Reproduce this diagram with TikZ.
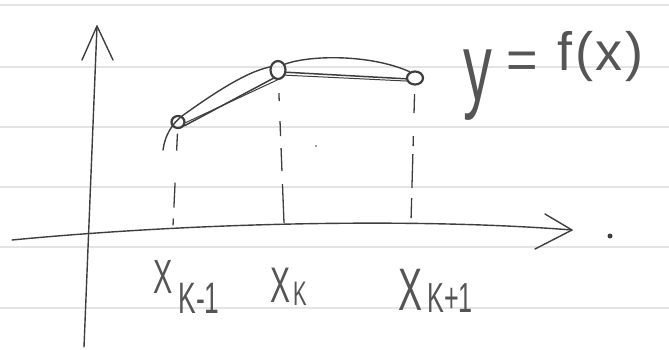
\documentclass[tikz,border=0pt]{standalone}
\usepackage{fontspec}
\setmainfont{Liberation Sans}
\usepackage{graphicx}
\usetikzlibrary{shapes.geometric}
\definecolor{ink}{HTML}{3E3E3E}
\definecolor{pencil}{HTML}{555555}
\definecolor{rulegray}{HTML}{E4E4E4}
\newcommand\hand[2]{\scalebox{0.6}[1]{\fontsize{#1}{#1}\selectfont #2}}
\begin{document}
\begin{tikzpicture}[x=1pt,y=-1pt,
  inkline/.style={draw=ink, line width=1.4pt, line cap=round, line join=round},
  paperrule/.style={draw=rulegray, line width=2pt},
  ptmark/.style={ellipse, draw=ink, line width=2.2pt, inner sep=0pt},
  dropline/.style={draw=ink, line width=1.3pt, line cap=butt},
  lbl/.style={text=pencil, inner sep=0pt, anchor=base west}]
\fill[white] (0,0) rectangle (669,349);
\useasboundingbox (0,0) rectangle (669,349);
% ruled paper
\foreach \yy in {5,67,127,187,247,308} \draw[paperrule] (0,\yy) -- (669,\yy);
% axes
\coordinate (xL) at (12,240);
\coordinate (xR) at (572,230);
\coordinate (xw1) at (545,214);
\coordinate (xw2) at (535,249);
\coordinate (yB) at (84,347);
\coordinate (yT) at (97,26);
\coordinate (yw1) at (82,60);
\coordinate (yw2) at (113,60);
\draw[inkline] (xL) .. controls (200,222) and (420,218) .. (xR);
\draw[inkline] (xw1) -- (xR) -- (xw2);
\draw[inkline] (yB) -- (yT);
\draw[inkline] (yw1) -- (yT) -- (yw2);
% points
\node[ptmark, minimum width=13pt, minimum height=12pt] (P1) at (178,122) {};
\node[ptmark, minimum width=15pt, minimum height=18pt] (P2) at (278,70) {};
\node[ptmark, minimum width=16pt, minimum height=13pt] (P3) at (415,78) {};
% curve y = f(x)
\coordinate (c0) at (163,150);
\draw[inkline] (c0) .. controls (165,135) and (172,124) .. (182,116)
  .. controls (210,96) and (245,72) .. (P2.160);
\draw[inkline] (P2.40) .. controls (310,55) and (370,54) .. (P3.130);
% chords
\draw[inkline, line width=1.5pt] (P1.-30) -- (P2.-120);
\draw[inkline, line width=1pt] (P1.-5) -- (P2.-95);
\draw[inkline, line width=1.5pt] (P2.-15) -- (P3.185);
\draw[inkline, line width=1pt] (P2.-35) -- (P3.200);
% drop lines
\coordinate (a1) at (173,226);
\coordinate (a2) at (284,223);
\coordinate (a3) at (411,221);
\draw[dropline, dash pattern=on 17pt off 32pt on 25pt off 11pt on 7pt off 4.5pt, dash phase=92pt] (P1) -- (a1);
\draw[dropline, dash pattern=on 8pt off 20pt on 15pt off 12pt on 23pt off 13pt on 40pt off 13pt, dash phase=131pt] (P2) -- (a2);
\draw[dropline, dash pattern=on 19pt off 23pt on 10pt off 8pt on 34pt off 10pt on 20pt off 8.5pt, dash phase=124pt] (P3) -- (a3);
% specks
\fill[ink] (610,236) circle (2.5pt);
\fill[ink] (316,146) circle (0.8pt);
% labels
\node[lbl] (L1) at (153,293) {\hand{48}{X}\hspace{6pt}\raisebox{-20pt}{\hand{44}{K-1}}};
\node[lbl] (L2) at (270,302) {\hand{50}{X}\hspace{3pt}\raisebox{-3pt}{\hand{34}{K}}};
\node[lbl] (L3) at (398,310) {\hand{60}{X}\hspace{5pt}\raisebox{-2pt}{\hand{42}{K+1}}};
\node[lbl] (F) at (463,70) {\raisebox{-30pt}{\hand{96}{y}}\fontsize{54}{54}\selectfont\kern14pt\raisebox{-8pt}{=}\kern20pt f\kern3pt(\kern2pt x\kern3pt)};
\end{tikzpicture}
\end{document}
